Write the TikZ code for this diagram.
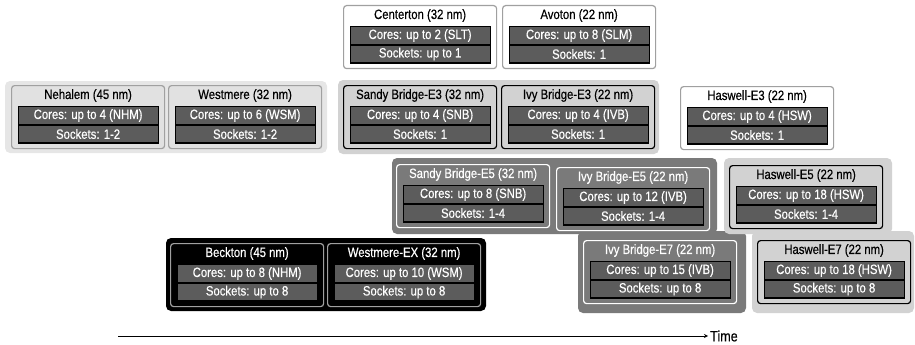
\documentclass[tikz,border=0pt]{standalone}
\usepackage{fontspec}
\setmainfont{Liberation Sans}[FakeStretch=0.84, FakeBold=0.4]
\usepackage{tikz}
\usetikzlibrary{arrows}
\usepackage{xcolor}
\definecolor{PaleBg}{HTML}{E6E6E6}
\definecolor{PaleBox}{HTML}{E1E1E1}
\definecolor{LightBg}{HTML}{D2D2D2}
\definecolor{DarkBg}{HTML}{7A7A7A}
\definecolor{LineGray}{HTML}{A0A0A0}
\definecolor{RowGray}{HTML}{5C5C5C}

\tikzset{
  chip/.style={draw, rounded corners=3pt, line width=1.2pt, minimum width=153pt, minimum height=63pt, anchor=north west, inner sep=0pt},
  plain/.style={fill=white, draw=LineGray},
  pale/.style={fill=PaleBox, draw=LineGray},
  light/.style={fill=LightBg, draw=black},
  dark/.style={fill=DarkBg, draw=white, text=white},
  night/.style={fill=black, draw=LineGray, text=white},
  title/.style={draw=none, fill=none, inner sep=0pt},
  row/.style={draw=black, fill=RowGray, text=white, line width=1.2pt, minimum width=140pt, minimum height=18pt, inner sep=0pt},
  group/.style={rounded corners=5pt}
}

% one processor box: [look]{name}{top left}{title}{cores}{sockets}
\newcommand{\cpubox}[6][plain]{%
  \node[chip,#1] (#2) at (#3) {};
  \node[#1,title] (#2-t) at ([yshift=-10.5pt]#2.north) {#4};
  \node[row] (#2-c) at ([yshift=-30.5pt]#2.north) {#5};
  \node[row] (#2-s) at ([yshift=-49pt]#2.north) {#6};
}

\begin{document}
\begin{tikzpicture}[x=1pt, y=-1pt, every node/.style={font=\fontsize{13.5pt}{15pt}\selectfont}]
\useasboundingbox (0,0) rectangle (915,345);
% family backgrounds
\fill[group, PaleBg] (5,81) rectangle (327,153);
\fill[group, LightBg] (338,80) rectangle (659,154);
\fill[group, DarkBg] (392,158) rectangle (717,234);
\fill[group, DarkBg] (578,231) rectangle (746,313);
\fill[group, LightBg] (724,158) rectangle (892,234);
\fill[group, LightBg] (752,231) rectangle (914,313);
\fill[group, black] (166,238) rectangle (486,311);
% processors
\cpubox{centerton}{343,5}{Centerton (32 nm)}{Cores: up to 2 (SLT)}{Sockets: up to 1}
\cpubox{avoton}{502,5}{Avoton (22 nm)}{Cores: up to 8 (SLM)}{Sockets: 1}
\cpubox[pale]{nehalem}{11,85}{Nehalem (45 nm)}{Cores: up to 4 (NHM)}{Sockets: 1-2}
\cpubox[pale]{westmere}{168,85}{Westmere (32 nm)}{Cores: up to 6 (WSM)}{Sockets: 1-2}
\cpubox[light]{snbE3}{343,85}{Sandy Bridge-E3 (32 nm)}{Cores: up to 4 (SNB)}{Sockets: 1}
\cpubox[light]{ivbE3}{501,85}{Ivy Bridge-E3 (22 nm)}{Cores: up to 4 (IVB)}{Sockets: 1}
\cpubox{hswE3}{680,86}{Haswell-E3 (22 nm)}{Cores: up to 4 (HSW)}{Sockets: 1}
\cpubox[dark]{snbE5}{396,164}{Sandy Bridge-E5 (32 nm)}{Cores: up to 8 (SNB)}{Sockets: 1-4}
\cpubox[dark]{ivbE5}{556,167}{Ivy Bridge-E5 (22 nm)}{Cores: up to 12 (IVB)}{Sockets: 1-4}
\cpubox[light]{hswE5}{729,165}{Haswell-E5 (22 nm)}{Cores: up to 18 (HSW)}{Sockets: 1-4}
\cpubox[dark]{ivbE7}{583,240}{Ivy Bridge-E7 (22 nm)}{Cores: up to 15 (IVB)}{Sockets: up to 8}
\cpubox[light]{hswE7}{757,240}{Haswell-E7 (22 nm)}{Cores: up to 18 (HSW)}{Sockets: up to 8}
\cpubox[night]{beckton}{170,243}{Beckton (45 nm)}{Cores: up to 8 (NHM)}{Sockets: up to 8}
\cpubox[night]{wsmEX}{327,243}{Westmere-EX (32 nm)}{Cores: up to 10 (WSM)}{Sockets: up to 8}
% time axis
\coordinate (t0) at (118,336);
\node[anchor=west, inner sep=2pt, font=\fontsize{15pt}{17pt}\selectfont] (time) at (708,336) {Time};
\draw[-stealth, line width=0.8pt] (t0) -- (time.west);
\end{tikzpicture}
\end{document}
